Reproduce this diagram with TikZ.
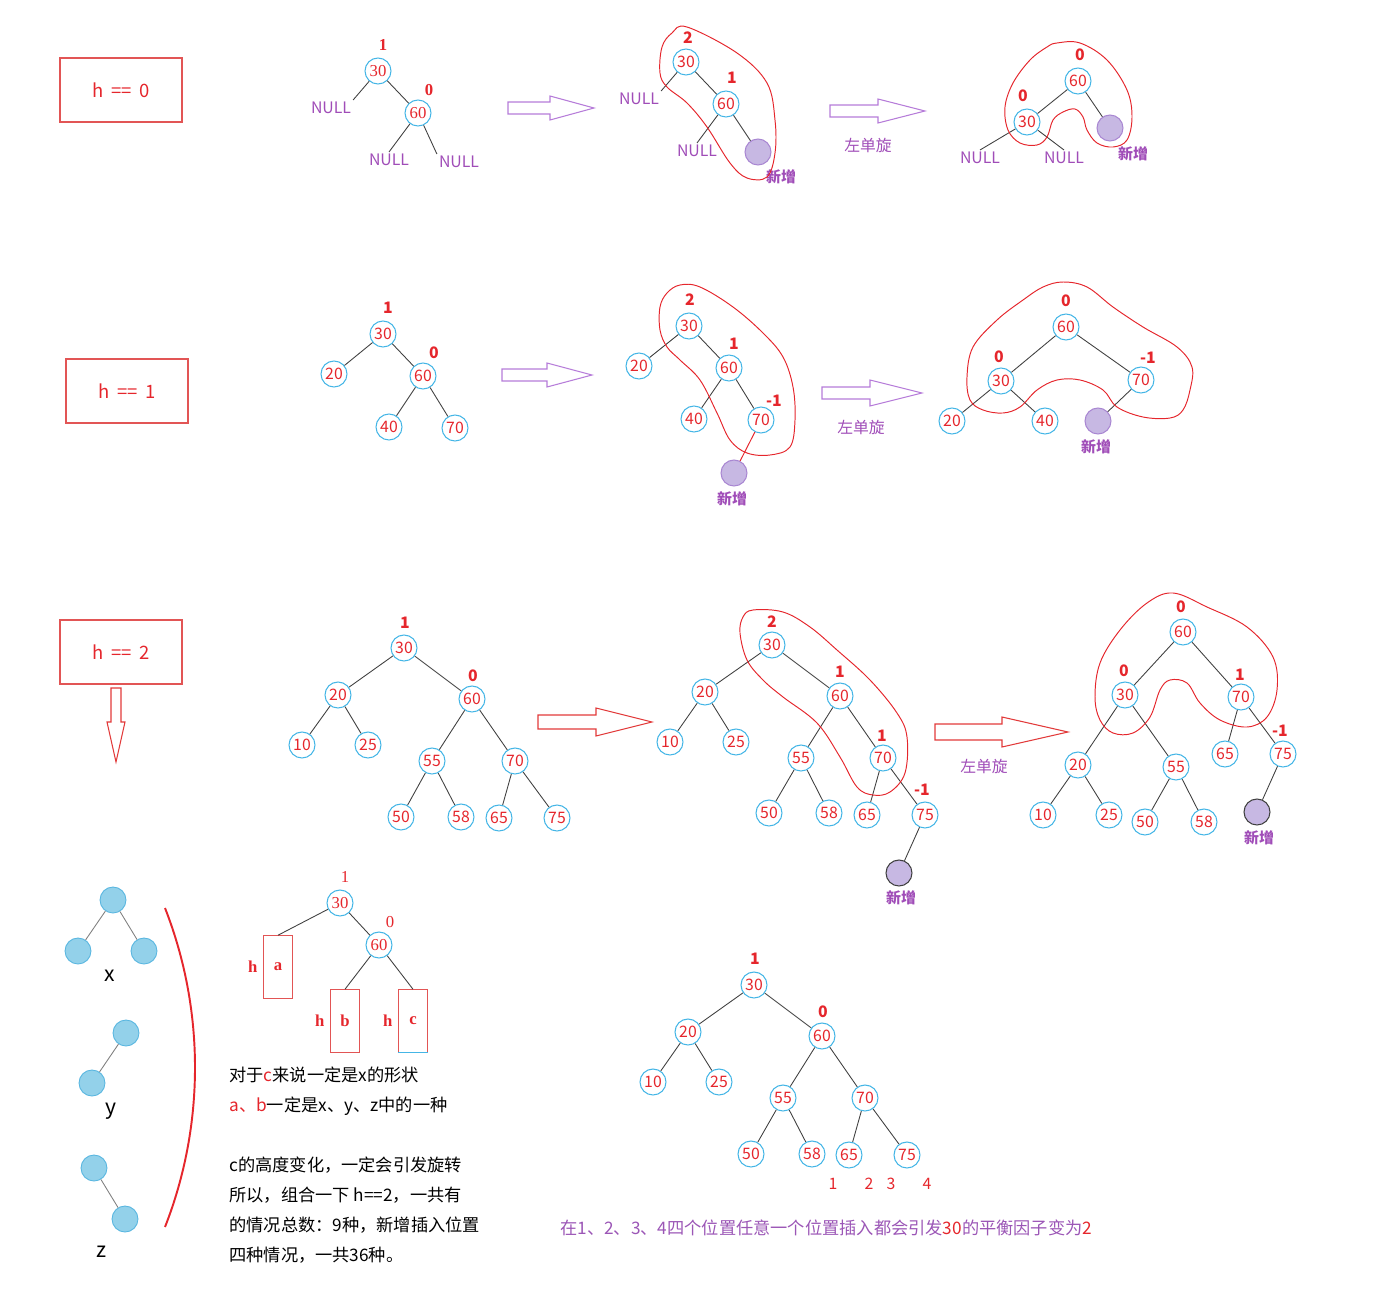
\documentclass[tikz,border=0pt]{standalone}
\usepackage{fontspec}
\setmainfont{Noto Sans CJK SC}
\newfontfamily\numserif{Liberation Serif}
\usetikzlibrary{positioning}
\definecolor{NumRed}{HTML}{E5262C}
\definecolor{Sky}{HTML}{45B6E6}
\definecolor{Plum}{HTML}{A04DB8}
\definecolor{Lilac}{HTML}{A987D2}
\definecolor{LilacFill}{HTML}{C7B8E3}
\definecolor{ArrowPlum}{HTML}{B67CD9}
\definecolor{ArrowRed}{HTML}{E23A3A}
\definecolor{BoxRed}{HTML}{E25555}
\definecolor{Edge}{HTML}{404040}
\definecolor{Ball}{HTML}{93D1EA}
\definecolor{BallLine}{HTML}{58B6E0}
\definecolor{Note}{HTML}{9B56B6}
\newcommand\hgap{\hspace{0.4em}}
\tikzset{
  val/.style={circle,draw=Sky,line width=0.6pt,minimum size=0.52cm,inner sep=0pt,
    font=\fontsize{9}{10}\selectfont,text=NumRed},
  serifnum/.style={font=\numserif\fontsize{9.5}{10}\selectfont},
  bf/.style={inner sep=0pt,font=\fontsize{9}{10}\selectfont\bfseries,text=NumRed},
  nil/.style={inner sep=1pt,font=\fontsize{9}{10}\selectfont,text=Plum},
  newn/.style={circle,draw=Lilac,fill=LilacFill,line width=0.6pt,minimum size=0.52cm,inner sep=0pt},
  tag/.style={inner sep=0pt,font=\fontsize{8.5}{10}\selectfont\bfseries,text=Plum},
  rot/.style={inner sep=0pt,font=\fontsize{9}{10}\selectfont,text=Plum},
  edge/.style={draw=Edge,line width=0.5pt},
  blob/.style={draw=NumRed,line width=0.55pt},
  harrow/.style={draw=ArrowPlum,fill=white,line width=0.6pt},
  hbox/.style={draw=BoxRed,line width=0.6pt,minimum width=2.44cm,minimum height=1.28cm,
    font=\fontsize{10.5}{11}\selectfont,text=NumRed},
  ball/.style={circle,draw=BallLine,fill=Ball,line width=0.5pt,minimum size=0.52cm,inner sep=0pt},
  shapelab/.style={inner sep=0pt,font=\fontsize{12}{13}\selectfont},
  hrect/.style={draw=BoxRed,line width=0.6pt,minimum width=0.58cm,minimum height=1.25cm,
    font=\numserif\fontsize{9.5}{10}\selectfont\bfseries,text=NumRed},
  hlab/.style={inner sep=0pt,font=\numserif\fontsize{9.5}{10}\selectfont,text=NumRed},
  note/.style={inner sep=0pt,align=left,font=\fontsize{9.8}{17.07}\selectfont}
}
\begin{document}
\begin{tikzpicture}[x=0.02cm,y=-0.02cm]
\useasboundingbox (0,0) rectangle (1400,1298);

% ---- h == 0
\node[hbox] (h0) at (121,90) {h\hgap==\hgap0};

\node[val,serifnum] (pa30) at (378,71) {30};
\node[val,serifnum] (pa60) at (418,113) {60};
\node[bf,font=\numserif\fontsize{9.5}{10}\selectfont\bfseries] at (383,45) {1};
\node[bf,font=\numserif\fontsize{9.5}{10}\selectfont\bfseries] at (429,90) {0};
\node[nil] (paN1) at (331,108) {NULL};
\node[nil] (paN2) at (389,160) {NULL};
\node[nil] (paN3) at (459,162) {NULL};
\draw[edge] (pa30) -- (pa60) (pa30) -- (paN1.north east)
  (pa60) -- (paN2.north) (pa60) -- (paN3.north west);

\draw[harrow] (508,102) -- (550,102) -- (550,96) -- (594,108) -- (550,120) -- (550,114) -- (508,114) -- cycle;

\node[val] (pb30) at (686,62) {30};
\node[val] (pb60) at (726,104) {60};
\node[bf] at (688,38) {2};
\node[bf] at (732,78) {1};
\node[nil] (pbN1) at (639,99) {NULL};
\node[nil] (pbN2) at (697,151) {NULL};
\node[newn] (pbnew) at (758,152) {};
\node[tag] at (781,177) {新增};
\draw[edge] (pb30) -- (pb60) (pb30) -- (pbN1.north east)
  (pb60) -- (pbN2.north) (pb60) -- (pbnew);
\draw[blob] plot[smooth cycle,tension=0.6] coordinates {(687,27) (737,53) (767,83) (775,120)
  (775,153) (767,177) (747,178) (730,163) (707,127) (687,103) (667,87) (660,73) (662,47) (672,33)};

\draw[harrow] (830,105) -- (878,105) -- (878,99) -- (925,111) -- (878,123) -- (878,117) -- (830,117) -- cycle;
\node[rot] at (868,145) {左单旋};

\node[val] (pc60) at (1078,81) {60};
\node[val] (pc30) at (1027,122) {30};
\node[bf] at (1080,55) {0};
\node[bf] at (1023,96) {0};
\node[newn] (pcnew) at (1110,128) {};
\node[nil] (pcN1) at (980,158) {NULL};
\node[nil] (pcN2) at (1064,158) {NULL};
\node[tag] at (1133,154) {新增};
\draw[edge] (pc60) -- (pc30) (pc60) -- (pcnew) (pc30) -- (pcN1.north) (pc30) -- (pcN2.north);
\draw[blob] plot[smooth cycle,tension=0.6] coordinates {(1057,43) (1080,43) (1107,60) (1127,90)
  (1132,117) (1127,140) (1113,147) (1097,143) (1087,130) (1083,117) (1075,109) (1063,112)
  (1053,120) (1047,137) (1037,145) (1020,143) (1008,130) (1005,107) (1013,83) (1030,60) (1047,47)};

% ---- h == 1
\node[hbox] (h1) at (127,391) {h\hgap==\hgap1};

\node[val] (qa30) at (383,334) {30};
\node[val] (qa20) at (334,374) {20};
\node[val] (qa60) at (423,376) {60};
\node[val] (qa40) at (389,427) {40};
\node[val] (qa70) at (455,428) {70};
\node[bf] at (388,308) {1};
\node[bf] at (434,353) {0};
\draw[edge] (qa30) -- (qa20) (qa30) -- (qa60) (qa60) -- (qa40) (qa60) -- (qa70);

\draw[harrow] (502,369) -- (547,369) -- (547,363) -- (592,375) -- (547,387) -- (547,381) -- (502,381) -- cycle;

\node[val] (qb30) at (689,326) {30};
\node[val] (qb20) at (639,366) {20};
\node[val] (qb60) at (729,368) {60};
\node[val] (qb40) at (694,419) {40};
\node[val] (qb70) at (761,420) {70};
\node[newn] (qbnew) at (734,473) {};
\node[bf] at (690,300) {2};
\node[bf] at (734,344) {1};
\node[bf] at (774,401) {-1};
\node[tag] at (732,499) {新增};
\draw[edge] (qb30) -- (qb20) (qb30) -- (qb60) (qb60) -- (qb40) (qb60) -- (qb70);
\draw[blob] (qb70) -- (qbnew);
\draw[blob] plot[smooth cycle,tension=0.6] coordinates {(680,285) (700,287) (733,307) (763,333)
  (783,357) (793,387) (795,420) (790,447) (770,455) (747,453) (730,440) (717,413) (700,380)
  (680,360) (667,347) (660,330) (660,307) (667,293)};

\draw[harrow] (822,387) -- (870,387) -- (870,380) -- (922,393) -- (870,406) -- (870,399) -- (822,399) -- cycle;
\node[rot] at (861,427) {左单旋};

\node[val] (qc60) at (1066,327) {60};
\node[val] (qc30) at (1001,381) {30};
\node[val] (qc70) at (1141,380) {70};
\node[val] (qc20) at (952,421) {20};
\node[val] (qc40) at (1045,421) {40};
\node[newn] (qcnew) at (1098,421) {};
\node[bf] at (1066,301) {0};
\node[bf] at (999,357) {0};
\node[bf] at (1148,358) {-1};
\node[tag] at (1096,447) {新增};
\draw[edge] (qc60) -- (qc30) (qc60) -- (qc70) (qc30) -- (qc20) (qc30) -- (qc40) (qc70) -- (qcnew);
\draw[blob] plot[smooth cycle,tension=0.6] coordinates {(1063,282) (1087,287) (1113,307) (1143,327)
  (1177,347) (1192,367) (1190,390) (1183,410) (1170,418) (1143,417) (1117,407) (1103,390)
  (1080,380) (1057,380) (1037,390) (1020,407) (1003,413) (983,410) (970,400) (967,377)
  (973,347) (997,320) (1023,300) (1043,287)};

% ---- h == 2
\node[hbox] (h2) at (121,652) {h\hgap==\hgap2};
\draw[harrow,draw=ArrowRed] (111,688) -- (121,688) -- (121,722) -- (125,722) -- (116,762)
  -- (107,722) -- (111,722) -- cycle;

\node[val] (ra30) at (404,648) {30};
\node[val] (ra20) at (338,695) {20};
\node[val] (ra60) at (472,699) {60};
\node[val] (ra10) at (302,745) {10};
\node[val] (ra25) at (368,745) {25};
\node[val] (ra55) at (432,761) {55};
\node[val] (ra70) at (515,761) {70};
\node[val] (ra50) at (401,817) {50};
\node[val] (ra58) at (461,817) {58};
\node[val] (ra65) at (499,818) {65};
\node[val] (ra75) at (557,818) {75};
\node[bf] at (405,623) {1};
\node[bf] at (473,676) {0};
\draw[edge] (ra30) -- (ra20) (ra30) -- (ra60) (ra20) -- (ra10) (ra20) -- (ra25)
  (ra60) -- (ra55) (ra60) -- (ra70) (ra55) -- (ra50) (ra55) -- (ra58) (ra70) -- (ra65) (ra70) -- (ra75);

\draw[harrow,draw=ArrowRed] (538,715) -- (596,715) -- (596,708) -- (652,722) -- (596,736) -- (596,729) -- (538,729) -- cycle;

\node[val] (rb30) at (772,645) {30};
\node[val] (rb20) at (705,692) {20};
\node[val] (rb60) at (840,696) {60};
\node[val] (rb10) at (670,742) {10};
\node[val] (rb25) at (736,742) {25};
\node[val] (rb55) at (801,758) {55};
\node[val] (rb70) at (883,758) {70};
\node[val] (rb50) at (769,813) {50};
\node[val] (rb58) at (829,813) {58};
\node[val] (rb65) at (867,815) {65};
\node[val] (rb75) at (925,815) {75};
\node[newn,draw=Edge] (rbnew) at (899,873) {};
\node[bf] at (772,622) {2};
\node[bf] at (840,672) {1};
\node[bf] at (882,736) {1};
\node[bf] at (922,790) {-1};
\node[tag] at (901,898) {新增};
\draw[edge] (rb30) -- (rb20) (rb30) -- (rb60) (rb20) -- (rb10) (rb20) -- (rb25)
  (rb60) -- (rb55) (rb60) -- (rb70) (rb55) -- (rb50) (rb55) -- (rb58) (rb70) -- (rb65) (rb70) -- (rb75)
  (rb75) -- (rbnew);
\draw[blob] plot[smooth cycle,tension=0.6] coordinates {(753,610) (783,612) (810,627) (837,650)
  (870,680) (897,713) (907,737) (905,773) (890,792) (873,795) (857,787) (840,757) (817,723)
  (783,697) (763,680) (747,660) (740,633) (743,617)};

\draw[harrow,draw=ArrowRed] (935,724) -- (1002,724) -- (1002,717) -- (1068,732) -- (1002,747) -- (1002,740) -- (935,740) -- cycle;
\node[rot] at (984,766) {左单旋};

\node[val] (rc60) at (1183,632) {60};
\node[val] (rc30) at (1125,695) {30};
\node[val] (rc70) at (1241,697) {70};
\node[val] (rc20) at (1078,765) {20};
\node[val] (rc55) at (1176,767) {55};
\node[val] (rc65) at (1225,754) {65};
\node[val] (rc75) at (1283,754) {75};
\node[val] (rc10) at (1043,815) {10};
\node[val] (rc25) at (1109,815) {25};
\node[val] (rc50) at (1145,822) {50};
\node[val] (rc58) at (1204,822) {58};
\node[newn,draw=Edge] (rcnew) at (1257,812) {};
\node[bf] at (1181,607) {0};
\node[bf] at (1124,671) {0};
\node[bf] at (1240,675) {1};
\node[bf] at (1280,731) {-1};
\node[tag] at (1259,838) {新增};
\draw[edge] (rc60) -- (rc30) (rc60) -- (rc70) (rc30) -- (rc20) (rc30) -- (rc55)
  (rc20) -- (rc10) (rc20) -- (rc25) (rc55) -- (rc50) (rc55) -- (rc58)
  (rc70) -- (rc65) (rc70) -- (rc75) (rc75) -- (rcnew);
\draw[blob] plot[smooth cycle,tension=0.6] coordinates {(1173,593) (1207,607) (1247,627) (1273,657)
  (1277,690) (1267,717) (1247,727) (1220,720) (1200,703) (1187,683) (1170,680) (1160,690)
  (1150,717) (1133,733) (1113,733) (1100,720) (1095,697) (1100,663) (1120,630) (1147,603)};

% ---- shapes x, y, z
\node[ball] (xt) at (113,900) {};
\node[ball] (xl) at (78,951) {};
\node[ball] (xr) at (144,951) {};
\node[shapelab] at (110,976) {x};
\node[ball] (yt) at (126,1033) {};
\node[ball] (yl) at (92,1083) {};
\node[shapelab] at (111,1111) {y};
\node[ball] (zt) at (94,1168) {};
\node[ball] (zr) at (125,1219) {};
\node[shapelab] at (102,1252) {z};
\draw[edge,draw=gray] (xt) -- (xl) (xt) -- (xr) (yt) -- (yl) (zt) -- (zr);
\draw[draw=NumRed,line width=1.1pt] (165,908) .. controls (205,1010) and (205,1125) .. (165,1227);

% ---- generic h tree
\node[val,serifnum] (sa30) at (340,903) {30};
\node[val,serifnum] (sa60) at (379,945) {60};
\node[hlab] at (345,877) {1};
\node[hlab] at (390,922) {0};
\node[hrect] (ra) at (278,967) {a};
\node[hrect] (rbx) at (345,1021) {b};
\node[hrect] (rcx) at (413,1021) {c};
\node[hlab,font=\numserif\fontsize{9.5}{10}\selectfont\bfseries,left=3pt of ra] {h};
\node[hlab,font=\numserif\fontsize{9.5}{10}\selectfont\bfseries,left=3pt of rbx] {h};
\node[hlab,font=\numserif\fontsize{9.5}{10}\selectfont\bfseries,left=3pt of rcx] {h};
\draw[draw=Sky,line width=0.7pt] (rcx.south west) -- (rcx.south east);
\draw[edge] (sa30) -- (sa60) (sa30) -- (ra.north) (sa60) -- (rbx.north) (sa60) -- (rcx.north);

\node[note,anchor=north west] (txt) at (229,1067) {对于\textcolor{NumRed}{c}来说一定是x的形状\\
  \textcolor{NumRed}{a、b}一定是x、y、z中的一种\\ \mbox{}\\
  c的高度变化，一定会引发旋转\\
  所以，组合一下 h==2，一共有\\
  的情况总数：9种，新增插入位置\\
  四种情况，一共36种。};

% ---- bottom tree
\node[val] (ta30) at (754,985) {30};
\node[val] (ta20) at (688,1032) {20};
\node[val] (ta60) at (822,1036) {60};
\node[val] (ta10) at (653,1082) {10};
\node[val] (ta25) at (719,1082) {25};
\node[val] (ta55) at (783,1098) {55};
\node[val] (ta70) at (865,1098) {70};
\node[val] (ta50) at (751,1154) {50};
\node[val] (ta58) at (812,1154) {58};
\node[val] (ta65) at (849,1155) {65};
\node[val] (ta75) at (907,1155) {75};
\node[bf] at (755,959) {1};
\node[bf] at (823,1012) {0};
\draw[edge] (ta30) -- (ta20) (ta30) -- (ta60) (ta20) -- (ta10) (ta20) -- (ta25)
  (ta60) -- (ta55) (ta60) -- (ta70) (ta55) -- (ta50) (ta55) -- (ta58) (ta70) -- (ta65) (ta70) -- (ta75);
\node[hlab,font=\fontsize{9}{10}\selectfont] at (833,1184) {1};
\node[hlab,font=\fontsize{9}{10}\selectfont] at (869,1184) {2};
\node[hlab,font=\fontsize{9}{10}\selectfont] at (891,1184) {3};
\node[hlab,font=\fontsize{9}{10}\selectfont] at (927,1184) {4};
\node[note,text=Note,anchor=west] (sum) at (560,1228) {在1、2、3、4四个位置任意一个位置插入都会引发\textcolor{NumRed}{30}的平衡因子变为\textcolor{NumRed}{2}};
\end{tikzpicture}
\end{document}
